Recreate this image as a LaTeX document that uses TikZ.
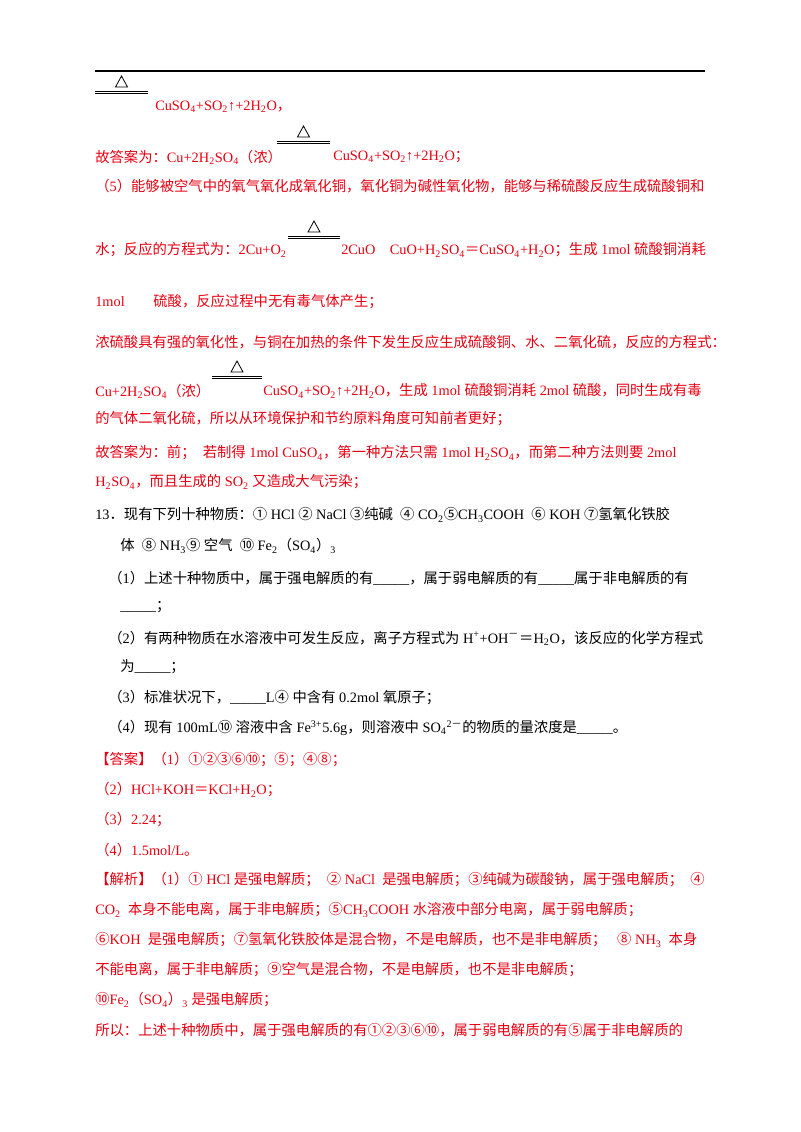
\documentclass[tikz,border=0pt]{standalone}
\usepackage{fontspec}
\setmainfont{Liberation Serif}
\newfontfamily\cjk{Noto Sans CJK SC}
\XeTeXinterchartokenstate=1
\newXeTeXintercharclass\cjkclass
\newcount\cc
\def\setcls#1#2{\cc=#1\relax\loop\XeTeXcharclass\cc=\cjkclass\advance\cc 1\ifnum\cc<#2\repeat}
\setcls{"4E00}{"A000}\setcls{"3000}{"3040}\setcls{"FF00}{"FFF0}\setcls{"2460}{"2500}
\XeTeXinterchartoks 0 \cjkclass = {\begingroup\cjk}
\XeTeXinterchartoks 4095 \cjkclass = {\begingroup\cjk}
\XeTeXinterchartoks \cjkclass 0 = {\endgroup}
\XeTeXinterchartoks \cjkclass 4095 = {\endgroup}
\definecolor{ans}{RGB}{230,0,18}
\newcommand\sub[1]{\textsubscript{#1}}
\newcommand\sups[1]{\textsuperscript{#1}}
\begin{document}
\begin{tikzpicture}[x=0.75pt,y=-0.75pt,
  tl/.style={anchor=west,inner sep=0pt,font=\fontsize{10.75pt}{12pt}\selectfont},
  rt/.style={tl,text=ans},
  bk/.style={tl,text=black}]
\useasboundingbox (0,0) rectangle (800,1132);
\fill[white] (0,0) rectangle (800,1132);
\draw[line width=0.8pt] (95,71) -- (705,71);
\newcommand\heat[3]{%
  \draw[line width=0.6pt] ({(#1+#2)/2-6},#3-4) -- ({(#1+#2)/2+6},#3-4) -- ({(#1+#2)/2},#3-15) -- cycle;
  \draw[line width=0.6pt] (#1,#3) -- (#2,#3) (#1,#3+2.5) -- (#2,#3+2.5);}
\begin{scope}[draw=black]
\heat{95}{148}{91}
\heat{277}{330}{141}
\heat{288}{340}{236}
\heat{212}{262}{376}
\end{scope}
\node[rt] (l1) at (155,107) {CuSO\sub4+SO\sub2↑+2H\sub2O，};
\node[rt] (l2) at (95,157) {故答案为：Cu+2H\sub2SO\sub4（浓）};
\node[rt] (l2b) at (333,157) {CuSO\sub4+SO\sub2↑+2H\sub2O；};
\node[rt] (l3) at (95,186) {（5）能够被空气中的氧气氧化成氧化铜，氧化铜为碱性氧化物，能够与稀硫酸反应生成硫酸铜和};
\node[rt] (l4) at (95,250) {水；反应的方程式为：2Cu+O\sub2};
\node[rt] (l4b) at (341,250) {2CuO\quad CuO+H\sub2SO\sub4＝CuSO\sub4+H\sub2O；生成 1mol 硫酸铜消耗};
\node[rt] (l5) at (95,302) {1mol\qquad 硫酸，反应过程中无有毒气体产生；};
\node[rt] (l6) at (95,342) {浓硫酸具有强的氧化性，与铜在加热的条件下发生反应生成硫酸铜、水、二氧化硫，反应的方程式：};
\node[rt] (l7) at (95,391) {Cu+2H\sub2SO\sub4（浓）};
\node[rt] (l7b) at (263,391) {CuSO\sub4+SO\sub2↑+2H\sub2O，生成 1mol 硫酸铜消耗 2mol 硫酸，同时生成有毒};
\node[rt] (l8) at (95,419) {的气体二氧化硫，所以从环境保护和节约原料角度可知前者更好；};
\node[rt] (l9) at (95,453) {故答案为：前；\ \ 若制得 1mol CuSO\sub4，第一种方法只需 1mol H\sub2SO\sub4，而第二种方法则要 2mol};
\node[rt] (l10) at (95,482) {H\sub2SO\sub4，而且生成的 SO\sub2 又造成大气污染；};
\node[bk] (q1) at (95,515) {13．现有下列十种物质：① HCl ② NaCl ③纯碱\ \ ④ CO\sub2⑤CH\sub3COOH\ \ ⑥ KOH ⑦氢氧化铁胶};
\node[bk] (q2) at (120,546) {体\ \ ⑧ NH\sub3⑨ 空气\ \ ⑩ Fe\sub2（SO\sub4）\sub3};
\node[bk] (q3) at (108,578) {（1）上述十种物质中，属于强电解质的有\_\_\_\_\_，属于弱电解质的有\_\_\_\_\_属于非电解质的有};
\node[bk] (q4) at (120,607) {\_\_\_\_\_；};
\node[bk] (q5) at (108,638) {（2）有两种物质在水溶液中可发生反应，离子方程式为 H\sups{+}+OH\sups{－}＝H\sub2O，该反应的化学方程式};
\node[bk] (q6) at (120,667) {为\_\_\_\_\_；};
\node[bk] (q7) at (108,698) {（3）标准状况下，\_\_\_\_\_L④ 中含有 0.2mol 氧原子；};
\node[bk] (q8) at (108,728) {（4）现有 100mL⑩ 溶液中含 Fe\sups{3+}5.6g，则溶液中 SO\sub4\sups{2－}的物质的量浓度是\_\_\_\_\_。};
\node[rt] (a1) at (95,760) {【答案】（1）①②③⑥⑩；⑤；④⑧；};
\node[rt] (a2) at (95,790) {（2）HCl+KOH＝KCl+H\sub2O；};
\node[rt] (a3) at (95,820) {（3）2.24；};
\node[rt] (a4) at (95,850) {（4）1.5mol/L。};
\node[rt] (s1) at (95,880) {【解析】（1）① HCl 是强电解质；\ \ ② NaCl\ \ 是强电解质；③纯碱为碳酸钠，属于强电解质；\ \ ④};
\node[rt] (s2) at (95,910) {CO\sub2\ \ 本身不能电离，属于非电解质；⑤CH\sub3COOH 水溶液中部分电离，属于弱电解质；};
\node[rt] (s3) at (95,940) {⑥KOH\ \ 是强电解质；⑦氢氧化铁胶体是混合物，不是电解质，也不是非电解质；\ \ \ ⑧ NH\sub3\ \ 本身};
\node[rt] (s4) at (95,970) {不能电离，属于非电解质；⑨空气是混合物，不是电解质，也不是非电解质；};
\node[rt] (s5) at (95,1000) {⑩Fe\sub2（SO\sub4）\sub3 是强电解质；};
\node[rt] (s6) at (95,1030) {所以：上述十种物质中，属于强电解质的有①②③⑥⑩，属于弱电解质的有⑤属于非电解质的};
\end{tikzpicture}
\end{document}
